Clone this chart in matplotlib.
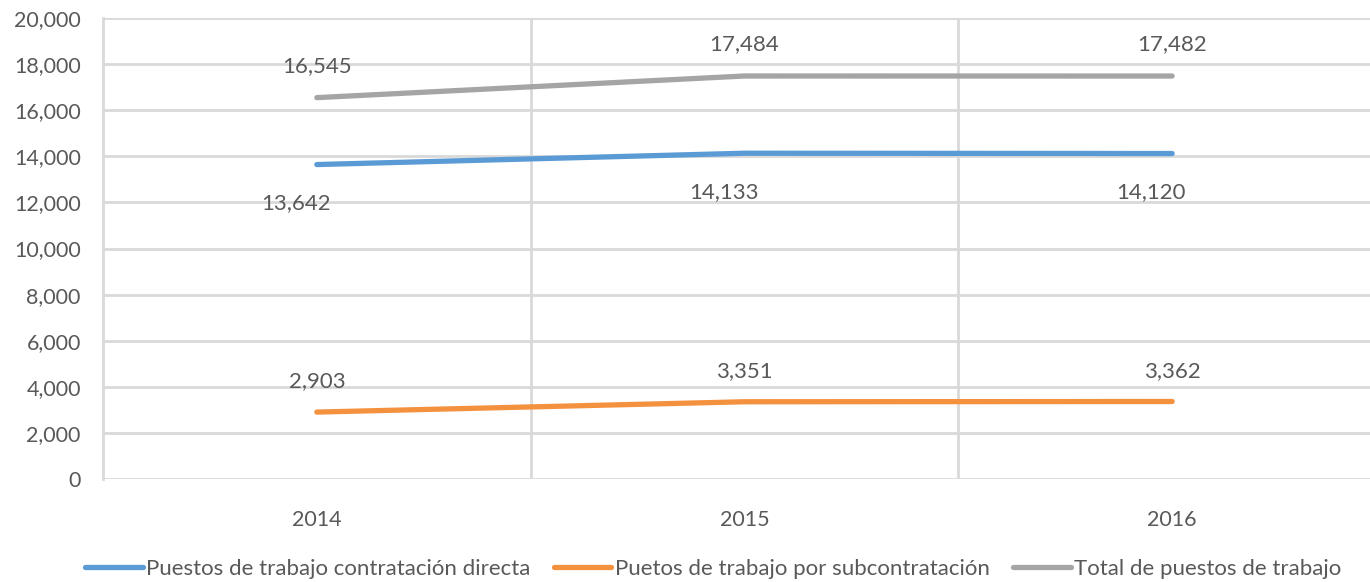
import matplotlib
matplotlib.use('Agg')
import matplotlib.pyplot as plt
from matplotlib.ticker import FuncFormatter

years = ['2014', '2015', '2016']
directa = [13642, 14133, 14120]
subcontratacion = [2903, 3351, 3362]
total = [16545, 17484, 17482]

series_names = ['Puestos de trabajo contratación directa',
                'Puetos de trabajo por subcontratación',
                'Total de puestos de trabajo']

plt.rcParams['font.family'] = ['Lato', 'DejaVu Sans']
txt = '#595959'
grid_c = '#d9d9d9'

fig = plt.figure(figsize=(13.7, 5.82), dpi=100)
ax = fig.add_axes([103/1370, 1-479/582, (1386-103)/1370, (479-18)/582])

x = list(range(len(years)))
l1, = ax.plot(x, directa, color='#5B9BD5', lw=3.8, solid_capstyle='round')
l2, = ax.plot(x, subcontratacion, color='#F4913F', lw=3.8, solid_capstyle='round')
l3, = ax.plot(x, total, color='#A5A5A5', lw=3.8, solid_capstyle='round')

# etiquetas de datos
for i, v in enumerate(directa):
    ax.annotate(f'{v:,}', (i, v), xytext=(-15, -28), textcoords='offset points',
                ha='center', va='center', fontsize=16, color=txt)
for i, v in enumerate(subcontratacion):
    ax.annotate(f'{v:,}', (i, v), xytext=(0, 22), textcoords='offset points',
                ha='center', va='center', fontsize=16, color=txt)
for i, v in enumerate(total):
    ax.annotate(f'{v:,}', (i, v), xytext=(0, 23), textcoords='offset points',
                ha='center', va='center', fontsize=16, color=txt)

ax.set_xlim(-0.5, 2.5)
ax.set_ylim(0, 20000)
ax.set_yticks(range(0, 20001, 2000))
ax.yaxis.set_major_formatter(FuncFormatter(lambda v, p: f'{int(v):,}'))
ax.set_xticks(x)
ax.set_xticklabels(years)
ax.set_xticks([0.5, 1.5], minor=True)
ax.grid(axis='y', which='major', color=grid_c, lw=2)
ax.grid(axis='x', which='minor', color=grid_c, lw=2)
ax.set_axisbelow(True)
ax.tick_params(axis='both', which='both', length=0, labelsize=15.5, labelcolor=txt)
ax.tick_params(axis='y', pad=16)
ax.tick_params(axis='x', pad=22)
for s in ['top', 'right', 'bottom']:
    ax.spines[s].set_visible(False)
ax.spines['left'].set_color(grid_c)
ax.spines['left'].set_linewidth(2)

fig.legend([l1, l2, l3], series_names, loc='center', bbox_to_anchor=(713/1370, 1-569/582),
           ncol=3, frameon=False, fontsize=16, labelcolor=txt, handlelength=2.6,
           handletextpad=0.15, columnspacing=1.05, borderpad=0)

fig.savefig('out.png', dpi=100)
